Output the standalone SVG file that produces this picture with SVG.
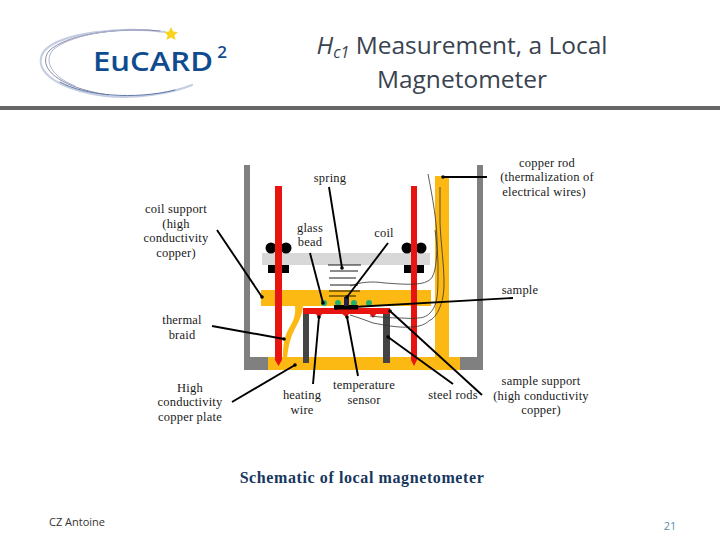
<svg xmlns="http://www.w3.org/2000/svg" width="720" height="540" viewBox="0 0 720 540">
<style>
.t{font-family:"Liberation Serif","DejaVu Serif",serif;font-size:12.5px;letter-spacing:.2px;fill:#1a1a1a;text-anchor:middle}
.h{font-family:"Open Sans","Noto Sans",sans-serif;font-size:24.5px;fill:#3a4450;text-anchor:middle}
.l{stroke:#000;stroke-width:1.9;fill:none;marker-end:url(#dot)}
.w{stroke:#333;stroke-width:.8;fill:none}
.s{stroke:#000;stroke-width:.9}
.sw{fill:none;stroke-linecap:round}
.y{fill:#fdb913}
.r{fill:#e8140f}
.g{fill:#808080}
.d{fill:#444}
.b{fill:#1fae6e}
.f{font-family:"Open Sans","Noto Sans",sans-serif;font-size:11px}
.m{font-family:"Open Sans","Noto Sans",sans-serif;font-weight:600;fill:#0f4c8f}
</style>
<defs>
<marker id="dot" markerWidth="4" markerHeight="4" refX="2" refY="2" markerUnits="userSpaceOnUse"><circle cx="2" cy="2" r="1.800" fill="#000"/></marker>
</defs>
<rect width="720" height="540" fill="#fff"/>
<g id="logo">
<path class="sw" d="M165 32C120 26 62 33 45 50C32 66 48 88 105 96C135 99 170 94 192 85" stroke="#c5cde2" stroke-width="2.200"/>
<path class="sw" d="M160 31C115 27 65 35 49 51C38 65 52 86 108 95" stroke="#8d8aa8" stroke-width="1"/>
<path class="sw" d="M150 30C110 28 68 36 53 50C44 60 50 76 75 86" stroke="#a9b3cf" stroke-width="1"/>
<path class="sw" d="M60 82C85 96 135 100 175 90" stroke="#5f7ba8" stroke-width="1"/>
<polygon points="171,27 173.200,31.600 178,32 174.400,35.200 175.500,40 171,37.500 166.500,40 167.600,35.200 164,32 168.800,31.600" fill="#f8d320"/>
<text class="m" x="93" y="71" font-size="27" textLength="120" lengthAdjust="spacingAndGlyphs">EuCARD</text>
<text class="m" x="222" y="58" font-size="17" text-anchor="middle">2</text>
</g>
<g id="title">
<text class="h" x="462" y="54"><tspan font-style="italic">H</tspan><tspan font-style="italic" font-size="16" dy="4">c1</tspan><tspan dy="-4"> Measurement, a Local</tspan></text>
<text class="h" x="462" y="88">Magnetometer</text>
</g>
<rect id="rule" x="0" y="106" width="720" height="4" fill="#666"/>
<g id="apparatus">
<rect class="g" x="244" y="165" width="6" height="205"/>
<rect class="g" x="244" y="357" width="24" height="13"/>
<rect class="g" x="477" y="165" width="6" height="205"/>
<rect class="g" x="460" y="357" width="23" height="13"/>
<rect class="y" x="268" y="357" width="192" height="13"/>
<rect class="y" x="435" y="176" width="14" height="181"/>
<rect class="y" x="261" y="290" width="170" height="16"/>
<path class="y" d="M295 306H303C302 318 296 326 292 335C289 343 288 350 287 358H283C283 345 284 338 288 330C293 322 296 316 295 306Z"/>
<rect x="262" y="253" width="168" height="12" fill="#d8d8d8"/>
<circle cx="271" cy="248" r="5.500"/><circle cx="286" cy="248" r="5.500"/>
<circle cx="407" cy="248" r="5.500"/><circle cx="421" cy="248" r="5.500"/>
<rect x="268" y="265" width="21" height="8"/>
<rect x="404" y="265" width="20" height="8"/>
<path class="r" d="M275 186H282V360L278.500 366L275 360Z"/>
<path class="r" d="M411 186H417V360L414 366L411 360Z"/>
<rect class="d" x="303" y="313" width="6" height="50"/>
<rect class="d" x="383" y="313" width="7" height="50"/>
<rect class="r" x="303" y="308" width="87" height="6"/>
<path class="r" d="M315 313h8l-4 5zM341 313h9l-4 4zM369 313h8l-4 5z"/>
<circle class="b" cx="324" cy="303" r="3"/><circle class="b" cx="338" cy="303" r="3"/><circle class="b" cx="354" cy="303" r="3"/><circle class="b" cx="369" cy="303" r="3"/>
<rect x="334" y="305" width="24" height="4.500"/>
<rect x="344" y="297" width="5" height="9" fill="#222250"/>
<path class="s" d="M328 265H361M330 271H358M329 278H356M330 285H358M329 291H360M329 296H356"/>
<path class="w" d="M428 174C432 195 438 225 437 250C436 265 435 278 428 281C420 286 400 284 385 283C372 281 360 282 350 286"/>
<path class="w" d="M440 187C440 200 440 212 440 223C441 245 444 265 444 283C444 295 442 302 440 307C437 315 432 320 430 320C424 326 416 327 410 327C398 328 384 325 373 323C365 320 357 317 350 315"/>
<path class="w" d="M435 230C437 245 438 255 438 267C438 280 438 290 437 297C436 305 433 310 430 313C426 317 422 318 417 318C411 319 405 318 400 318C390 318 380 317 370 316"/>
</g>
<g id="connectors">
<path class="l" d="M487 177H443"/>
<path class="l" d="M329 187L342 268"/>
<path class="l" d="M310 253L323 303"/>
<path class="l" d="M388 243L347 297"/>
<path class="l" d="M513 298L336 308"/>
<path class="l" d="M217 230L262 297"/>
<path class="l" d="M212 326L284 339"/>
<path class="l" d="M232 402L295 365"/>
<path class="l" d="M313 384L319 317"/>
<path class="l" d="M358 376L347 317"/>
<path class="l" d="M453 384L388 337"/>
<path class="l" d="M482 395L390 311"/>
</g>
<g id="labels">
<text class="t" x="330" y="182">spring</text>
<text class="t" x="547" y="167">copper rod</text>
<text class="t" x="547" y="181">(thermalization of</text>
<text class="t" x="544" y="196">electrical wires)</text>
<text class="t" x="176" y="213">coil support</text>
<text class="t" x="176" y="228">(high</text>
<text class="t" x="176" y="242">conductivity</text>
<text class="t" x="176" y="257">copper)</text>
<text class="t" x="310" y="232">glass</text>
<text class="t" x="310" y="246">bead</text>
<text class="t" x="384" y="237">coil</text>
<text class="t" x="520" y="294">sample</text>
<text class="t" x="182" y="324">thermal</text>
<text class="t" x="182" y="339">braid</text>
<text class="t" x="190" y="392">High</text>
<text class="t" x="190" y="406">conductivity</text>
<text class="t" x="190" y="421">copper plate</text>
<text class="t" x="302" y="399">heating</text>
<text class="t" x="302" y="414">wire</text>
<text class="t" x="364" y="389">temperature</text>
<text class="t" x="364" y="404">sensor</text>
<text class="t" x="453" y="399">steel rods</text>
<text class="t" x="541" y="385">sample support</text>
<text class="t" x="541" y="400">(high conductivity</text>
<text class="t" x="541" y="414">copper)</text>
<text x="362" y="483" font-family="'Liberation Serif',serif" font-size="16" letter-spacing=".6" font-weight="700" fill="#17375e" text-anchor="middle">Schematic of local magnetometer</text>
</g>
<g id="footer">
<text class="f" x="49" y="526" fill="#333">CZ Antoine</text>
<text class="f" x="670" y="530" fill="#5b8fb0" text-anchor="middle">21</text>
</g>
</svg>
